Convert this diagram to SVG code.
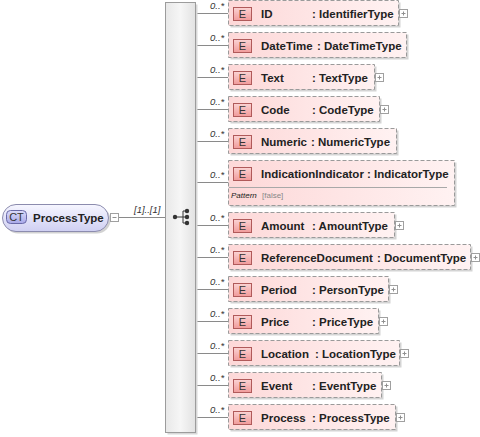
<svg xmlns="http://www.w3.org/2000/svg" xmlns:xlink="http://www.w3.org/1999/xlink" width="480" height="437" viewBox="0 0 480 437">
<style>
text{font-family:"Liberation Sans",Arial,sans-serif;}
.nm{font-size:11.5px;font-weight:bold;fill:#222;}
.mult{font-size:9.5px;font-style:italic;fill:#333;}
.badgeT{font-size:11px;fill:#333;text-anchor:middle;}
.box{fill:url(#elGrad);stroke:#9a9a9a;stroke-width:1;stroke-dasharray:4 2;}
.shadow{fill:#d4d4d4;}
.badge{fill:url(#badgeGrad);stroke:#b05a5a;stroke-width:1;}
.conn{stroke:#8a8a8a;stroke-width:1;fill:none;}
.icon{fill:#fff;stroke:#a0a0a0;stroke-width:1;}
.iconl{stroke:#909090;stroke-width:1;}
.small{font-size:8px;}
</style>
<defs>
<linearGradient id="elGrad" x1="0" y1="0" x2="1" y2="0">
<stop offset="0" stop-color="#fdd8d8"/>
<stop offset="1" stop-color="#fff2f2"/>
</linearGradient>
<linearGradient id="badgeGrad" x1="0" y1="0" x2="0" y2="1">
<stop offset="0" stop-color="#fbd4d4"/>
<stop offset="1" stop-color="#f09a9a"/>
</linearGradient>
<linearGradient id="seqGrad" x1="0" y1="0" x2="1" y2="0">
<stop offset="0" stop-color="#e8e8e8"/>
<stop offset="0.5" stop-color="#f6f6f6"/>
<stop offset="1" stop-color="#e2e2e2"/>
</linearGradient>
<linearGradient id="ctGrad" x1="0" y1="0" x2="0" y2="1">
<stop offset="0" stop-color="#f6f6ff"/>
<stop offset="1" stop-color="#cfcff2"/>
</linearGradient>
<linearGradient id="ctBadge" x1="0" y1="0" x2="0" y2="1">
<stop offset="0" stop-color="#dcdcfa"/>
<stop offset="1" stop-color="#a8a8e8"/>
</linearGradient>
<g id="plus">
<rect class="icon" x="0.5" y="0.5" width="8" height="8"/>
<path class="iconl" d="M2.5 4.5H6.5M4.5 2.5V6.5"/>
</g>
</defs>

<g id="connectors">
<path class="conn" d="M119 217.5H165"/>
<path class="conn" d="M195 13.5H228M195 45.5H228M195 77.5H228M195 109.5H228M195 141.5H228M195 182.5H228M195 225.5H228M195 257.5H228M195 289.5H228M195 321.5H228M195 353.5H228M195 385.5H228M195 417.5H228"/>
<text class="mult" x="134" y="213">[1]..[1]</text>
<text class="mult" x="210" y="9">0..*</text>
<text class="mult" x="210" y="41">0..*</text>
<text class="mult" x="210" y="73">0..*</text>
<text class="mult" x="210" y="105">0..*</text>
<text class="mult" x="210" y="137">0..*</text>
<text class="mult" x="210" y="178">0..*</text>
<text class="mult" x="210" y="221">0..*</text>
<text class="mult" x="210" y="253">0..*</text>
<text class="mult" x="210" y="285">0..*</text>
<text class="mult" x="210" y="317">0..*</text>
<text class="mult" x="210" y="349">0..*</text>
<text class="mult" x="210" y="381">0..*</text>
<text class="mult" x="210" y="413">0..*</text>
</g>

<g id="ProcessType">
<rect x="4.5" y="206.5" width="106" height="27" rx="13.5" fill="#d2d2d2"/>
<rect x="2.5" y="204.5" width="106" height="27" rx="13.5" fill="url(#ctGrad)" stroke="#8c8cae" stroke-width="1"/>
<rect x="6.5" y="210.5" width="20" height="13" rx="4" fill="url(#ctBadge)" stroke="#6a6aa8" stroke-width="1"/>
<text class="badgeT" x="16.5" y="221">CT</text>
<text class="nm" x="33" y="221.5">ProcessType</text>
<rect class="icon" x="110.5" y="213.5" width="8" height="8"/>
<path class="iconl" d="M112.5 217.5H116.5"/>
</g>

<g id="sequence">
<rect x="167.5" y="4.5" width="30" height="430" fill="#d8d8d8"/>
<rect x="165.5" y="2.5" width="30" height="430" fill="url(#seqGrad)" stroke="#9c9c9c" stroke-width="1"/>
<path d="M175 217H183M183 211V223M183 211H187M183 217H187M183 223H187" stroke="#333" stroke-width="1" fill="none"/>
<circle cx="175" cy="217" r="2.2" fill="#333"/>
<circle cx="187" cy="211" r="2.2" fill="#333"/>
<circle cx="187" cy="217" r="2.2" fill="#333"/>
<circle cx="187" cy="223" r="2.2" fill="#333"/>
</g>

<g id="ID">
<rect class="shadow" x="230.5" y="2.5" width="170" height="25"/>
<rect class="box" x="228.5" y="0.5" width="170" height="25"/>
<rect class="badge" x="233.5" y="7.5" width="18" height="13"/>
<text class="badgeT" x="242.5" y="18">E</text>
<text class="nm" x="261" y="18">ID</text>
<text class="nm" x="312" y="18">: IdentifierType</text>
<use xlink:href="#plus" x="399" y="9"/>
</g>

<g id="DateTime">
<rect class="shadow" x="230.5" y="34.5" width="178" height="25"/>
<rect class="box" x="228.5" y="32.5" width="178" height="25"/>
<rect class="badge" x="233.5" y="39.5" width="18" height="13"/>
<text class="badgeT" x="242.5" y="50">E</text>
<text class="nm" x="261" y="50">DateTime</text>
<text class="nm" x="317" y="50">: DateTimeType</text>
</g>

<g id="Text">
<rect class="shadow" x="230.5" y="66.5" width="146" height="25"/>
<rect class="box" x="228.5" y="64.5" width="146" height="25"/>
<rect class="badge" x="233.5" y="71.5" width="18" height="13"/>
<text class="badgeT" x="242.5" y="82">E</text>
<text class="nm" x="261" y="82">Text</text>
<text class="nm" x="312" y="82">: TextType</text>
<use xlink:href="#plus" x="375" y="73"/>
</g>

<g id="Code">
<rect class="shadow" x="230.5" y="98.5" width="151" height="25"/>
<rect class="box" x="228.5" y="96.5" width="151" height="25"/>
<rect class="badge" x="233.5" y="103.5" width="18" height="13"/>
<text class="badgeT" x="242.5" y="114">E</text>
<text class="nm" x="261" y="114">Code</text>
<text class="nm" x="312" y="114">: CodeType</text>
<use xlink:href="#plus" x="380" y="105"/>
</g>

<g id="Numeric">
<rect class="shadow" x="230.5" y="130.5" width="168" height="25"/>
<rect class="box" x="228.5" y="128.5" width="168" height="25"/>
<rect class="badge" x="233.5" y="135.5" width="18" height="13"/>
<text class="badgeT" x="242.5" y="146">E</text>
<text class="nm" x="261" y="146">Numeric</text>
<text class="nm" x="311" y="146">: NumericType</text>
</g>

<g id="IndicationIndicator">
<rect class="shadow" x="230.5" y="162.5" width="226" height="45"/>
<rect class="box" x="228.5" y="160.5" width="226" height="45"/>
<rect class="badge" x="233.5" y="167.5" width="18" height="13"/>
<text class="badgeT" x="242.5" y="178">E</text>
<text class="nm" x="261" y="178">IndicationIndicator</text>
<text class="nm" x="367" y="178">: IndicatorType</text>
<path d="M229 187.5H447" stroke="#a8a8a8" stroke-width="1"/>
<text class="small" x="231" y="197.5" font-style="italic" fill="#222">Pattern</text>
<text class="small" x="262" y="197.5" fill="#888">[false]</text>
</g>

<g id="Amount">
<rect class="shadow" x="230.5" y="214.5" width="166" height="25"/>
<rect class="box" x="228.5" y="212.5" width="166" height="25"/>
<rect class="badge" x="233.5" y="219.5" width="18" height="13"/>
<text class="badgeT" x="242.5" y="230">E</text>
<text class="nm" x="261" y="230">Amount</text>
<text class="nm" x="312" y="230">: AmountType</text>
<use xlink:href="#plus" x="395" y="221"/>
</g>

<g id="ReferenceDocument">
<rect class="shadow" x="230.5" y="246.5" width="242" height="25"/>
<rect class="box" x="228.5" y="244.5" width="242" height="25"/>
<rect class="badge" x="233.5" y="251.5" width="18" height="13"/>
<text class="badgeT" x="242.5" y="262">E</text>
<text class="nm" x="261" y="262">ReferenceDocument</text>
<text class="nm" x="377" y="262">: DocumentType</text>
<use xlink:href="#plus" x="471" y="253"/>
</g>

<g id="Period">
<rect class="shadow" x="230.5" y="278.5" width="160" height="25"/>
<rect class="box" x="228.5" y="276.5" width="160" height="25"/>
<rect class="badge" x="233.5" y="283.5" width="18" height="13"/>
<text class="badgeT" x="242.5" y="294">E</text>
<text class="nm" x="261" y="294">Period</text>
<text class="nm" x="312" y="294">: PersonType</text>
<use xlink:href="#plus" x="389" y="285"/>
</g>

<g id="Price">
<rect class="shadow" x="230.5" y="310.5" width="150" height="25"/>
<rect class="box" x="228.5" y="308.5" width="150" height="25"/>
<rect class="badge" x="233.5" y="315.5" width="18" height="13"/>
<text class="badgeT" x="242.5" y="326">E</text>
<text class="nm" x="261" y="326">Price</text>
<text class="nm" x="312" y="326">: PriceType</text>
<use xlink:href="#plus" x="379" y="317"/>
</g>

<g id="Location">
<rect class="shadow" x="230.5" y="342.5" width="171" height="25"/>
<rect class="box" x="228.5" y="340.5" width="171" height="25"/>
<rect class="badge" x="233.5" y="347.5" width="18" height="13"/>
<text class="badgeT" x="242.5" y="358">E</text>
<text class="nm" x="261" y="358">Location</text>
<text class="nm" x="315" y="358">: LocationType</text>
<use xlink:href="#plus" x="400" y="349"/>
</g>

<g id="Event">
<rect class="shadow" x="230.5" y="374.5" width="153" height="25"/>
<rect class="box" x="228.5" y="372.5" width="153" height="25"/>
<rect class="badge" x="233.5" y="379.5" width="18" height="13"/>
<text class="badgeT" x="242.5" y="390">E</text>
<text class="nm" x="261" y="390">Event</text>
<text class="nm" x="312" y="390">: EventType</text>
<use xlink:href="#plus" x="382" y="381"/>
</g>

<g id="Process">
<rect class="shadow" x="230.5" y="406.5" width="167" height="25"/>
<rect class="box" x="228.5" y="404.5" width="167" height="25"/>
<rect class="badge" x="233.5" y="411.5" width="18" height="13"/>
<text class="badgeT" x="242.5" y="422">E</text>
<text class="nm" x="261" y="422">Process</text>
<text class="nm" x="312" y="422">: ProcessType</text>
<use xlink:href="#plus" x="396" y="413"/>
</g>
</svg>
